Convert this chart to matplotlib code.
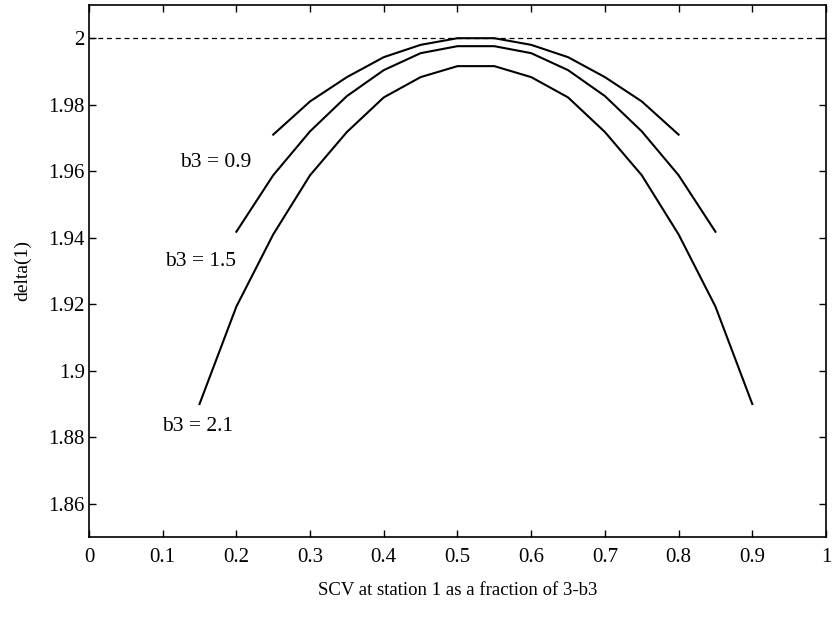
import numpy as np
import matplotlib.pyplot as plt
from matplotlib.ticker import FuncFormatter

plt.rcParams['font.family'] = ['Liberation Serif', 'DejaVu Serif']

# b3 = 0.9
x_09 = [0.25, 0.3, 0.35, 0.4, 0.45, 0.5, 0.55, 0.6, 0.65, 0.7, 0.75, 0.8]
y_09 = [1.971, 1.981, 1.9883, 1.9943, 1.998, 2.0, 2.0, 1.998, 1.9943, 1.9883, 1.981, 1.971]
# b3 = 1.5
x_15 = [0.2, 0.25, 0.3, 0.35, 0.4, 0.45, 0.5, 0.55, 0.6, 0.65, 0.7, 0.75, 0.8, 0.85]
y_15 = [1.9418, 1.9588, 1.972, 1.9826, 1.9904, 1.9955, 1.9976, 1.9976, 1.9955, 1.9904,
        1.9826, 1.972, 1.9588, 1.9418]
# b3 = 2.1
x_21 = [0.15, 0.2, 0.25, 0.3, 0.35, 0.4, 0.45, 0.5, 0.55, 0.6, 0.65, 0.7, 0.75, 0.8, 0.85, 0.9]
y_21 = [1.890, 1.9193, 1.941, 1.9588, 1.9718, 1.9822, 1.9883, 1.9916, 1.9916, 1.9883,
        1.9822, 1.9718, 1.9588, 1.941, 1.9193, 1.890]

labels = ['b3 = 0.9', 'b3 = 1.5', 'b3 = 2.1']
label_pos = [(0.1725, 1.9625), (0.151, 1.933), (0.148, 1.8832)]

fig = plt.figure(figsize=(8.33, 6.18), dpi=100)
# axes box in figure fractions (left 89px, right ~826px, top 5px, bottom 537px)
ax = fig.add_axes([0.1068, 0.131, 0.8848, 0.861])

ax.axhline(2.0, color='k', lw=0.9, ls=(0, (4, 3)))
for xs, ys in [(x_09, y_09), (x_15, y_15), (x_21, y_21)]:
    ax.plot(xs, ys, color='k', lw=1.5)

for txt, (tx, ty) in zip(labels, label_pos):
    ax.text(tx, ty, txt, fontsize=15.5, ha='center', va='center')

ax.set_xlim(0, 1)
ax.set_ylim(1.85, 2.01)
ax.set_xticks(np.arange(0, 1.01, 0.1))
ax.set_yticks(np.arange(1.86, 2.001, 0.02))
fmt = FuncFormatter(lambda v, p: '%g' % round(v, 2))
ax.xaxis.set_major_formatter(fmt)
ax.yaxis.set_major_formatter(fmt)
ax.tick_params(direction='in', top=True, right=True, labelsize=15, length=5, width=1)
ax.tick_params(axis='x', pad=8)
ax.tick_params(axis='y', pad=3)
for s in ax.spines.values():
    s.set_linewidth(1.2)

ax.set_xlabel('SCV at station 1 as a fraction of 3-b3', fontsize=13.5, labelpad=11)
ax.set_ylabel('delta(1)', fontsize=14, labelpad=12)

fig.savefig('out.png', dpi=100)
